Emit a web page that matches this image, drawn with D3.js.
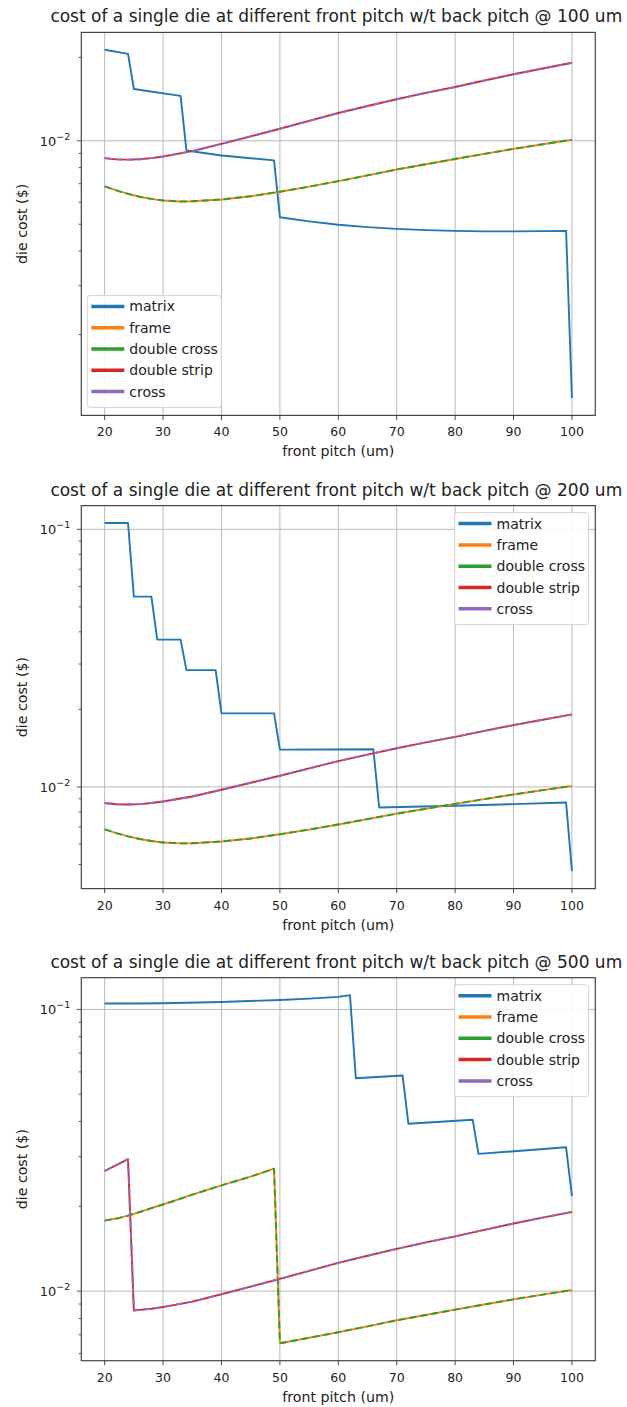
<!DOCTYPE html>
<html>
<head>
<meta charset="utf-8">
<script src="https://cdn.jsdelivr.net/npm/d3@7"></script>
<style>
  body { margin: 0; background: #fff; }
  svg text { font-family: "DejaVu Sans", sans-serif; fill: #222; }
</style>
</head>
<body>
<div id="chart"></div>
<script>
var width = 627, height = 1407;

var svg = d3.select("#chart")
    .append("svg")
    .attr("width", width)
    .attr("height", height);

// tick labels / categories
var pitchTicks = [20, 30, 40, 50, 60, 70, 80, 90, 100];
var names = ["matrix", "frame", "double cross", "double strip", "cross"];
var backPitch = [100, 200, 500];

// back pitch @ 100 um
var matrix100 = [[20,0.0213],[24,0.0206],[25,0.01538],[33,0.01452],[34,0.00923],[40,0.00885],[45,0.00865],
  [49,0.00850],[50,0.00530],[55,0.00512],[60,0.00498],[65,0.00488],[70,0.00481],[75,0.00476],[80,0.00473],
  [85,0.00471],[90,0.00471],[95,0.00472],[99,0.00473],[100,0.00118]];
var frame100 = [[20,0.00685],[22,0.00662],[24,0.00643],[26,0.00628],[28,0.00617],[30,0.00609],[33,0.00604],
  [35,0.00605],[40,0.00614],[45,0.00631],[50,0.00655],[55,0.00683],[60,0.00715],[65,0.00750],[70,0.00788],
  [75,0.00823],[80,0.00860],[85,0.00897],[90,0.00935],[95,0.00972],[100,0.01009]];
var doubleCross100 = frame100;   // sits exactly on frame
var strip100 = [[20,0.00866],[22,0.00857],[24,0.00855],[26,0.00858],[28,0.00866],[30,0.00878],[35,0.00918],
  [40,0.00975],[45,0.01038],[50,0.01105],[55,0.01180],[60,0.01260],[65,0.01335],[70,0.01413],[75,0.01490],
  [80,0.01564],[85,0.01650],[90,0.01738],[95,0.01823],[100,0.01912]];
var cross100 = strip100;         // sits exactly on double strip

// back pitch @ 200 um
var matrix200 = [[20,0.1058],[24,0.1058],[25,0.0548],[28,0.0548],[29,0.0373],[33,0.0373],[34,0.0284],[39,0.0284],
  [40,0.0193],[49,0.0193],[50,0.01396],[66,0.01400],[67,0.00832],[80,0.00845],[90,0.00858],[99,0.00870],[100,0.00471]];
var frame200 = frame100;
var doubleCross200 = frame100;
var strip200 = strip100;
var cross200 = strip100;

// back pitch @ 500 um
var matrix500 = [[20,0.1050],[25,0.1049],[30,0.1052],[40,0.1063],[50,0.1080],[55,0.1092],[60,0.1108],[62,0.1124],
  [63,0.0570],[71,0.0583],[72,0.0393],[83,0.0406],[84,0.0307],[99,0.0324],[100,0.02174]];
var frame500 = [[20,0.0178],[22,0.0181],[24,0.01854],[26,0.0191],[28,0.0197],[30,0.0203],[35,0.0220],[40,0.02374],
  [45,0.0255],[49,0.0272],[50,0.00653],[55,0.00683],[60,0.00715],[65,0.00750],[70,0.00788],[75,0.00823],
  [80,0.00860],[85,0.00897],[90,0.00935],[95,0.00972],[100,0.01009]];
var doubleCross500 = frame500;
var strip500 = [[20,0.0267],[22,0.0280],[24,0.0294],[25,0.00854],[26,0.00858],[28,0.00866],[30,0.00878],[35,0.00918],
  [40,0.00975],[45,0.01038],[50,0.01105],[55,0.01180],[60,0.01260],[65,0.01335],[70,0.01413],[75,0.01490],
  [80,0.01564],[85,0.01650],[90,0.01738],[95,0.01823],[100,0.01912]];
var cross500 = strip500;

var seriesByPanel = [
  [matrix100, frame100, doubleCross100, strip100, cross100],
  [matrix200, frame200, doubleCross200, strip200, cross200],
  [matrix500, frame500, doubleCross500, strip500, cross500]
];

var color = d3.scaleOrdinal(names, ["#1f77b4", "#ff7f0e", "#2ca02c", "#d62728", "#9467bd"]);
var dashed = {"double cross": "7,4", "cross": "7,4"};

var left = 81.3, right = 595.3, plotH = 383;
var tops = [32.4, 505.6, 977.7];
var legendPos = ["lower left", "upper right", "upper right"];

// x domain like matplotlib: data range + 5% each side
var xr = d3.extent(pitchTicks);
var xpad = (xr[1] - xr[0]) * 0.05;
var x = d3.scaleLinear().domain([xr[0] - xpad, xr[1] + xpad]).range([left, right]);

var line = d3.line()
    .x(function(d) { return x(d[0]); });

backPitch.forEach(function(bp, p) {
  var top = tops[p], bottom = top + plotH;
  var series = seriesByPanel[p];
  var g = svg.append("g");

  var all = [];
  series.forEach(function(s) { s.forEach(function(d) { all.push(Math.log10(d[1])); }); });
  var lo = d3.min(all), hi = d3.max(all), pad = (hi - lo) * 0.05;
  var y = d3.scaleLog().domain([Math.pow(10, lo - pad), Math.pow(10, hi + pad)]).range([bottom, top]);
  line.y(function(d) { return y(d[1]); });

  // log ticks
  var majors = [], minors = [];
  for (var k = Math.floor(lo - pad); k <= Math.ceil(hi + pad); k++) {
    for (var m = 1; m <= 9; m++) {
      var v = m * Math.pow(10, k);
      if (v < y.domain()[0] || v > y.domain()[1]) continue;
      (m === 1 ? majors : minors).push({v: v, k: k});
    }
  }

  // grid
  g.selectAll(".gx").data(pitchTicks).enter().append("line")
      .attr("x1", function(d) { return x(d); }).attr("x2", function(d) { return x(d); })
      .attr("y1", top).attr("y2", bottom)
      .attr("stroke", "#b8b8b8").attr("stroke-width", 1);
  g.selectAll(".gy").data(majors).enter().append("line")
      .attr("x1", left).attr("x2", right)
      .attr("y1", function(d) { return y(d.v); }).attr("y2", function(d) { return y(d.v); })
      .attr("stroke", "#b8b8b8").attr("stroke-width", 1);

  // series
  names.forEach(function(name, i) {
    g.append("path")
        .attr("d", line(series[i]))
        .attr("fill", "none")
        .attr("stroke", color(name))
        .attr("stroke-width", 1.9)
        .attr("stroke-linejoin", "round")
        .attr("stroke-dasharray", dashed[name] || null);
  });

  // spines
  g.append("rect")
      .attr("x", left).attr("y", top)
      .attr("width", right - left).attr("height", plotH)
      .attr("fill", "none").attr("stroke", "#444").attr("stroke-width", 1.2);

  // x ticks
  g.selectAll(".tx").data(pitchTicks).enter().append("line")
      .attr("x1", function(d) { return x(d); }).attr("x2", function(d) { return x(d); })
      .attr("y1", bottom).attr("y2", bottom + 4.5)
      .attr("stroke", "#444").attr("stroke-width", 1);
  g.selectAll(".lx").data(pitchTicks).enter().append("text")
      .attr("x", function(d) { return x(d); })
      .attr("y", bottom + 21)
      .attr("text-anchor", "middle")
      .attr("font-size", 12.5)
      .text(function(d) { return d; });

  // y ticks
  g.selectAll(".ty").data(majors.concat(minors)).enter().append("line")
      .attr("x1", left).attr("x2", function(d) { return left - (d.v === Math.pow(10, d.k) ? 4.5 : 2.6); })
      .attr("y1", function(d) { return y(d.v); }).attr("y2", function(d) { return y(d.v); })
      .attr("stroke", "#444").attr("stroke-width", 0.9);
  var yl = g.selectAll(".ly").data(majors).enter().append("text")
      .attr("x", left - 11)
      .attr("y", function(d) { return y(d.v) + 5; })
      .attr("text-anchor", "end")
      .attr("font-size", 13);
  yl.append("tspan").text("10");
  yl.append("tspan").attr("dy", -6).attr("font-size", 9.5).text(function(d) { return "\u2212" + (-d.k); });

  // labels
  g.append("text")
      .attr("x", (left + right) / 2 - 2).attr("y", top - 10)
      .attr("text-anchor", "middle").attr("font-size", 17)
      .text("cost of a single die at different front pitch w/t back pitch @ " + bp + " um");
  g.append("text")
      .attr("x", (left + right) / 2).attr("y", bottom + 41)
      .attr("text-anchor", "middle").attr("font-size", 14.2)
      .text("front pitch (um)");
  g.append("text")
      .attr("transform", "translate(27," + (top + plotH / 2) + ") rotate(-90)")
      .attr("text-anchor", "middle").attr("font-size", 14.2)
      .text("die cost ($)");

  // legend
  var lw = 134, lh = 112;
  var lx = legendPos[p] === "lower left" ? left + 6 : right - 6.8 - lw;
  var ly = legendPos[p] === "lower left" ? bottom - 8 - lh : top + 7;
  var leg = g.append("g").attr("transform", "translate(" + lx + "," + ly + ")");
  leg.append("rect")
      .attr("width", lw).attr("height", lh).attr("rx", 3)
      .attr("fill", "#fff").attr("fill-opacity", 0.85)
      .attr("stroke", "#d5d5d5").attr("stroke-width", 1);
  var row = leg.selectAll(".row").data(names).enter().append("g")
      .attr("transform", function(d, i) { return "translate(0," + (11 + i * 21.3) + ")"; });
  row.append("line")
      .attr("x1", 4).attr("x2", 37)
      .attr("stroke", function(d) { return color(d); })
      .attr("stroke-width", 3.5);
  row.append("text")
      .attr("x", 42).attr("dy", "0.36em")
      .attr("font-size", 14)
      .text(function(d) { return d; });
});
</script>
</body>
</html>
